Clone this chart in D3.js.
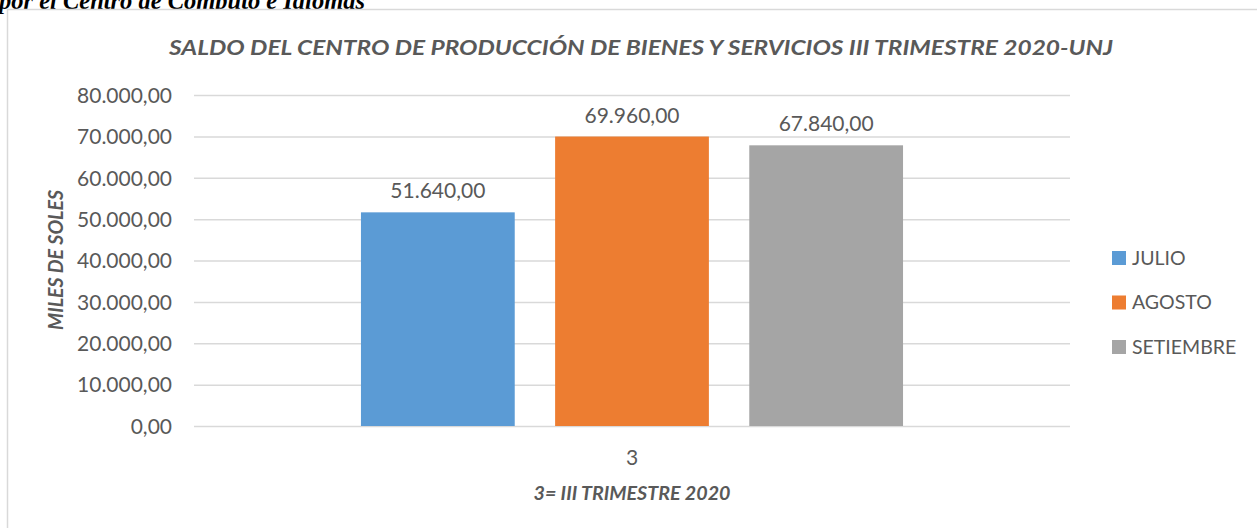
<!DOCTYPE html>
<html>
<head>
<meta charset="utf-8">
<script src="https://cdn.jsdelivr.net/npm/d3@7/dist/d3.min.js"></script>
<style>
  html, body { margin: 0; padding: 0; background: #fff; }
  svg { display: block; }
</style>
</head>
<body>
<svg id="chart" width="1257" height="528"></svg>
<script>
const categories = ["3"];
const seriesNames = ["JULIO", "AGOSTO", "SETIEMBRE"];
const seriesValues = [51640, 69960, 67840];
const seriesColors = ["#5b9bd5", "#ed7d31", "#a5a5a5"];
const yTicks = [0, 10000, 20000, 30000, 40000, 50000, 60000, 70000, 80000];
const chartTitle = "SALDO DEL CENTRO DE PRODUCCIÓN DE BIENES Y SERVICIOS III TRIMESTRE 2020-UNJ";
const yTitle = "MILES DE SOLES";
const xTitle = "3= III TRIMESTRE 2020";
const captionText = "por el Centro de Cómputo e Idiomas";

const svg = d3.select("#chart");
const textColor = "#595959";
const font = "Lato, 'Open Sans', 'Liberation Sans', sans-serif";

const fmt = v => {
  const s = d3.format(",.2f")(v);
  return s.replace(/,/g, "#").replace(/\./g, ",").replace(/#/g, ".");
};

// caption cut at top (as in the reference)
svg.append("text")
  .attr("x", -1).attr("y", 9)
  .attr("font-family", "'Liberation Serif', 'Times New Roman', serif")
  .attr("font-weight", "bold").attr("font-style", "italic")
  .attr("font-size", 24.5).attr("fill", "#000")
  .attr("textLength", 366).attr("lengthAdjust", "spacingAndGlyphs")
  .text(captionText);

// chart frame
svg.append("rect")
  .attr("x", 7.5).attr("y", 9.5).attr("width", 1270).attr("height", 540)
  .attr("fill", "#fff").attr("stroke", "#d9d9d9").attr("stroke-width", 1.5);

const plotLeft = 194, plotRight = 1070, plotTop = 95, plotBottom = 426;

const y = d3.scaleLinear().domain([0, 80000]).range([plotBottom, plotTop]);
const x0 = d3.scaleBand().domain(categories).range([plotLeft, plotRight])
  .paddingInner(0).paddingOuter(0.308);
const x1 = d3.scaleBand().domain(seriesNames).range([0, x0.bandwidth()])
  .paddingInner(0.208).paddingOuter(0);

// gridlines
const yAxis = d3.axisLeft(y).tickValues(yTicks).tickFormat(fmt)
  .tickSize(-(plotRight - plotLeft)).tickPadding(22);
const gy = svg.append("g").attr("transform", `translate(${plotLeft},0)`).call(yAxis);
gy.select(".domain").remove();
gy.selectAll(".tick line").attr("stroke", "#d9d9d9").attr("stroke-width", 1.5);
gy.selectAll(".tick text").attr("fill", textColor)
  .attr("font-family", font).attr("font-size", 21).attr("dy", "0.35em");

// title
svg.append("text")
  .attr("x", 169).attr("y", 55)
  .attr("font-family", font).attr("font-weight", "bold").attr("font-style", "italic")
  .attr("font-size", 20).attr("fill", textColor)
  .attr("textLength", 944).attr("lengthAdjust", "spacingAndGlyphs")
  .text(chartTitle);

// bars
const groups = svg.append("g").selectAll("g").data(categories).join("g")
  .attr("transform", d => `translate(${x0(d)},0)`);

const barData = seriesNames.map((n, i) => ({ name: n, value: seriesValues[i], color: seriesColors[i] }));

groups.selectAll("rect").data(barData).join("rect")
  .attr("x", d => x1(d.name))
  .attr("y", d => y(d.value))
  .attr("width", x1.bandwidth())
  .attr("height", d => y(0) - y(d.value))
  .attr("fill", d => d.color);

groups.selectAll("text.val").data(barData).join("text")
  .attr("class", "val")
  .attr("x", d => x1(d.name) + x1.bandwidth() / 2)
  .attr("y", d => y(d.value) - 14)
  .attr("text-anchor", "middle")
  .attr("font-family", font).attr("font-size", 21).attr("fill", textColor)
  .text(d => fmt(d.value));

// x axis
const xAxis = d3.axisBottom(x0).tickSize(0).tickPadding(24);
const gx = svg.append("g").attr("transform", `translate(0,${plotBottom})`).call(xAxis);
gx.select(".domain").remove();
gx.selectAll(".tick text").attr("fill", textColor)
  .attr("font-family", font).attr("font-size", 21);

// axis titles
svg.append("text")
  .attr("transform", "translate(63,260) rotate(-90)")
  .attr("text-anchor", "middle")
  .attr("font-family", font).attr("font-weight", "bold").attr("font-style", "italic")
  .attr("font-size", 20).attr("fill", textColor)
  .attr("textLength", 140).attr("lengthAdjust", "spacingAndGlyphs")
  .text(yTitle);

svg.append("text")
  .attr("x", 632).attr("y", 500)
  .attr("text-anchor", "middle")
  .attr("font-family", font).attr("font-weight", "bold").attr("font-style", "italic")
  .attr("font-size", 19.5).attr("fill", textColor)
  .attr("textLength", 197).attr("lengthAdjust", "spacingAndGlyphs")
  .text(xTitle);

// legend
const legend = svg.append("g").selectAll("g").data(barData).join("g")
  .attr("transform", (d, i) => `translate(1112,${258 + i * 44.5})`);
legend.append("rect").attr("x", 0).attr("y", -7).attr("width", 14).attr("height", 14)
  .attr("fill", d => d.color);
legend.append("text").attr("x", 20).attr("y", 0).attr("dy", "0.35em")
  .attr("font-family", font).attr("font-size", 19.5).attr("fill", textColor)
  .text(d => d.name);
</script>
</body>
</html>
